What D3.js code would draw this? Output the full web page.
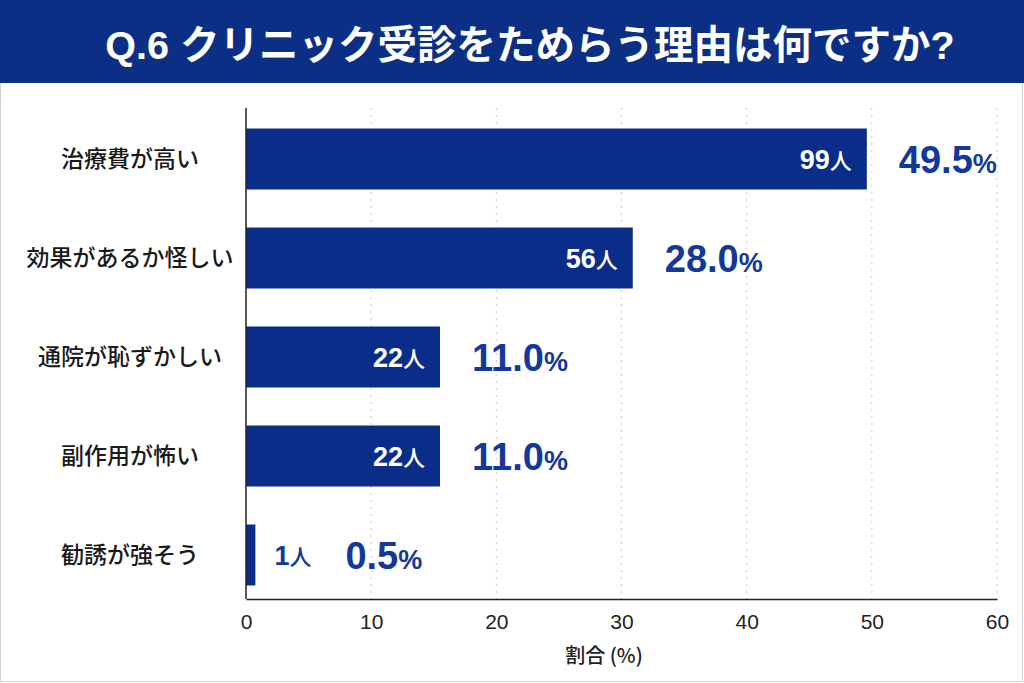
<!DOCTYPE html>
<html>
<head>
<meta charset="utf-8">
<script src="https://cdn.jsdelivr.net/npm/d3@7"></script>
<style>
  html, body { margin: 0; padding: 0; background: #fff; }
  svg { display: block; }
</style>
</head>
<body>
<div class="container"></div>
<script>
(function(){

    // data
    var categories = ["治療費が高い", "効果があるか怪しい", "通院が恥ずかしい", "副作用が怖い", "勧誘が強そう"];
    var barLengths = [49.6, 30.9, 15.5, 15.5, 0.75];   // drawn bar length, in axis units
    var counts = [99, 56, 22, 22, 1];
    var percents = ["49.5", "28.0", "11.0", "11.0", "0.5"];
    var ticks = [0, 10, 20, 30, 40, 50, 60];

    var W = 1024, H = 683;
    var navy = "#0b2d8a", textBlue = "#14379a";
    var latin = "'Liberation Sans', 'Noto Sans CJK JP', sans-serif";
    var jp = "'Noto Sans CJK JP', sans-serif";

    var svg = d3.select(".container").append("svg")
        .attr("width", W)
        .attr("height", H);

    svg.append("rect")
        .attr("x", 0.5).attr("y", 0.5)
        .attr("width", W - 2).attr("height", H - 2)
        .attr("fill", "#fff")
        .attr("stroke", "#d4d4d4");

    // header band
    svg.append("rect")
        .attr("x", 0).attr("y", 0)
        .attr("width", W).attr("height", 83)
        .attr("fill", "#0c2f86");

    svg.append("text")
        .attr("x", 530).attr("y", 59)
        .attr("text-anchor", "middle")
        .attr("fill", "#fff")
        .style("font-family", latin)
        .style("font-weight", 700)
        .style("font-size", "39.5px")
        .text("Q.6 クリニック受診をためらう理由は何ですか?");

    var x = d3.scaleLinear()
        .domain([0, 60])
        .range([246, 997]);

    var y = d3.scaleBand()
        .domain(categories)
        .range([109.5, 604.5])
        .paddingInner(0.384)
        .paddingOuter(0.192);

    var axisY = 599;

    // dotted grid
    svg.selectAll("line.grid")
        .data(ticks.slice(1))
        .enter().append("line")
        .attr("class", "grid")
        .attr("x1", function(d) { return x(d); })
        .attr("x2", function(d) { return x(d); })
        .attr("y1", 108).attr("y2", axisY)
        .attr("stroke", "#c8c8c8")
        .attr("stroke-width", 1)
        .attr("stroke-dasharray", "2,5");

    // bars
    svg.selectAll("rect.bar")
        .data(categories)
        .enter().append("rect")
        .attr("class", "bar")
        .attr("x", x(0))
        .attr("y", function(d) { return y(d); })
        .attr("width", function(d, i) { return x(barLengths[i]) - x(0); })
        .attr("height", y.bandwidth())
        .attr("fill", navy);

    // x axis
    var xAxis = d3.axisBottom(x)
        .tickValues(ticks)
        .tickSize(0)
        .tickPadding(15);

    var gx = svg.append("g")
        .attr("transform", "translate(0," + axisY + ")")
        .call(xAxis);
    gx.select(".domain").attr("stroke", "#222").attr("stroke-width", 1.5);
    gx.selectAll("text")
        .style("font-family", latin)
        .style("font-size", "21px")
        .attr("fill", "#222");

    // left axis line
    svg.append("line")
        .attr("x1", x(0)).attr("x2", x(0))
        .attr("y1", 108).attr("y2", axisY)
        .attr("stroke", "#222").attr("stroke-width", 1.5);

    svg.append("text")
        .attr("x", 604).attr("y", 663)
        .attr("text-anchor", "middle")
        .attr("fill", "#222")
        .style("font-family", jp)
        .style("font-size", "20px")
        .style("font-weight", 500)
        .text("割合 (%)");

    // category labels
    svg.selectAll("text.cat")
        .data(categories)
        .enter().append("text")
        .attr("class", "cat")
        .attr("x", 130)
        .attr("y", function(d) { return y(d) + y.bandwidth() / 2 + 8; })
        .attr("text-anchor", "middle")
        .attr("fill", "#1a1a1a")
        .style("font-family", jp)
        .style("font-weight", 500)
        .style("font-size", "23px")
        .text(function(d) { return d; });

    // count labels: inside the bar, or beside it when the bar is too short
    var inside = function(i) { return x(barLengths[i]) - x(0) > 80; };

    var countText = svg.selectAll("text.count")
        .data(categories)
        .enter().append("text")
        .attr("class", "count")
        .attr("x", function(d, i) { return inside(i) ? x(barLengths[i]) - 15 : x(barLengths[i]) + 19; })
        .attr("y", function(d) { return y(d) + y.bandwidth() / 2 + 10; })
        .attr("text-anchor", function(d, i) { return inside(i) ? "end" : "start"; })
        .attr("fill", function(d, i) { return inside(i) ? "#fff" : textBlue; })
        .style("font-family", latin)
        .style("font-weight", 700);
    countText.append("tspan")
        .style("font-size", "27px")
        .text(function(d, i) { return counts[i]; });
    countText.append("tspan")
        .style("font-family", jp)
        .style("font-size", "22px")
        .style("font-weight", 500)
        .text("人");

    // percent labels
    var pctText = svg.selectAll("text.pct")
        .data(categories)
        .enter().append("text")
        .attr("class", "pct")
        .attr("x", function(d, i) { return inside(i) ? x(barLengths[i]) + 32 : x(barLengths[i]) + 90; })
        .attr("y", function(d) { return y(d) + y.bandwidth() / 2 + 14; })
        .attr("fill", textBlue)
        .style("font-family", latin)
        .style("font-weight", 700);
    pctText.append("tspan")
        .style("font-size", "38px")
        .text(function(d, i) { return percents[i]; });
    pctText.append("tspan")
        .style("font-size", "27px")
        .text("%");

})();
</script>
</body>
</html>
